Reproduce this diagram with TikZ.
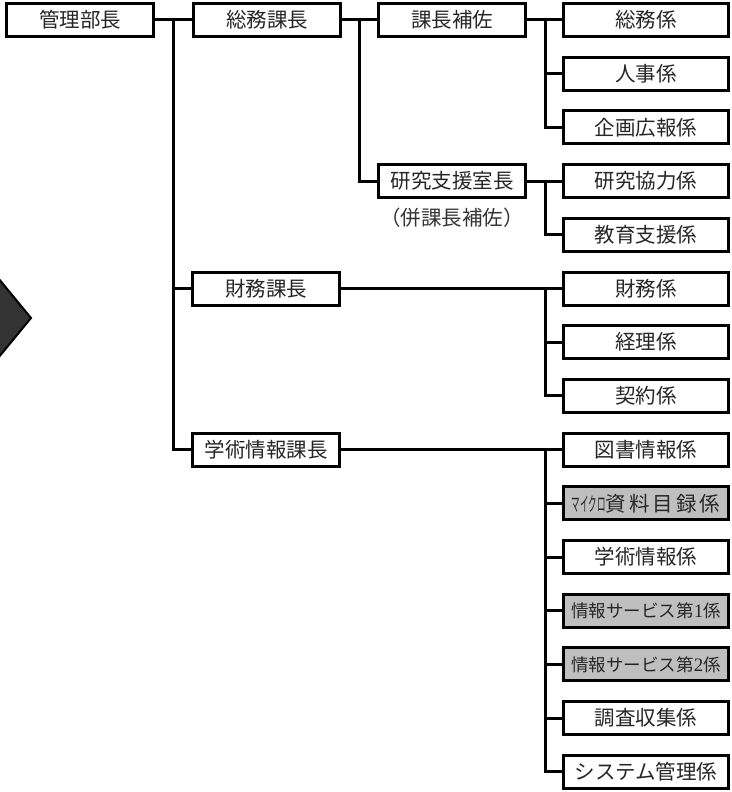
\documentclass[tikz,border=0pt]{standalone}
\usepackage{graphicx}
\usepackage{fontspec}
\setmainfont{Noto Sans CJK JP}
\newfontfamily\digitfont{Liberation Serif}
\tikzset{
  box/.style={draw=black, line width=3pt, fill=white, minimum width=147pt, minimum height=33pt,
    inner sep=0pt, font=\fontsize{20.5}{22}\selectfont, text=black!85},
  unit/.style={box, minimum width=165pt},
  shaded/.style={unit, fill=black!25},
  conn/.style={line width=3pt, draw=black},
  note/.style={font=\fontsize{20.5}{22}\selectfont, text=black!80, inner sep=0pt},
}
\begin{document}
\begin{tikzpicture}[x=1pt,y=-1pt]
\useasboundingbox (0,0) rectangle (731,792);
\begin{scope}
  \clip (0,0) rectangle (731,792);
  \filldraw[fill=black!80, draw=black, line width=2pt] (-20,256) -- (31,318) -- (-20,380) -- cycle;
\end{scope}
% managers
\node[box] (bucho) at (80,20) {管理部長};
\node[box] (soumuK) at (267,20) {総務課長};
\node[box] (zaimuK) at (266,288.5) {財務課長};
\node[box] (gakuK) at (266,449.6) {学術情報課長};
\node[box] (hosa) at (452,20) {課長補佐};
\node[box] (kenshitsu) at (452,181.1) {研究支援室長};
\node[note] (kennote) at (452,218) {（併課長補佐）};
% units
\node[unit] (u1) at (646,20) {総務係};
\node[unit] (u2) at (646,73.7) {人事係};
\node[unit] (u3) at (646,127.4) {企画広報係};
\node[unit] (u4) at (646,181.1) {研究協力係};
\node[unit] (u5) at (646,234.8) {教育支援係};
\node[unit] (u6) at (646,288.5) {財務係};
\node[unit] (u7) at (646,342.2) {経理係};
\node[unit] (u8) at (646,395.9) {契約係};
\node[unit] (u9) at (646,449.6) {図書情報係};
\node[shaded] (u10) at (646,503.3) {{\fontsize{19.5}{19.5}\selectfont\scalebox{0.44}[1]{マイクロ}}資\hspace{3pt}料\hspace{3pt}目\hspace{3pt}録\hspace{3pt}係};
\node[unit] (u11) at (646,557) {学術情報係};
\node[shaded, font=\fontsize{17.5}{19}\selectfont] (u12) at (646,610.7) {情報サービス第{\digitfont\fontsize{19}{19}\selectfont 1}係};
\node[shaded, font=\fontsize{17.5}{19}\selectfont] (u13) at (646,664.4) {情報サービス第{\digitfont\fontsize{19}{19}\selectfont 2}係};
\node[unit] (u14) at (646,718.1) {調査収集係};
\node[unit] (u15) at (646,771.8) {システム管理係};
% joints
\coordinate (j1) at (173,20);
\coordinate (j2) at (359,20);
\coordinate (j3) at (545,20);
\coordinate (j4) at (545,181.1);
\coordinate (j5) at (545,288.5);
\coordinate (j6) at (545,449.6);
% connectors
\draw[conn] (bucho.east) -- (soumuK.west);
\draw[conn] (j1) |- (zaimuK.west);
\draw[conn] (j1) |- (gakuK.west);
\draw[conn] (soumuK.east) -- (hosa.west);
\draw[conn] (j2) |- (kenshitsu.west);
\draw[conn] (hosa.east) -- (u1.west);
\draw[conn] (j3) |- (u2.west);
\draw[conn] (j3) |- (u3.west);
\draw[conn] (kenshitsu.east) -- (u4.west);
\draw[conn] (j4) |- (u5.west);
\draw[conn] (zaimuK.east) -- (u6.west);
\draw[conn] (j5) |- (u7.west);
\draw[conn] (j5) |- (u8.west);
\draw[conn] (gakuK.east) -- (u9.west);
\foreach \u in {u10,u11,u12,u13,u14,u15}{\draw[conn] (j6) |- (\u.west);}
\end{tikzpicture}
\end{document}
